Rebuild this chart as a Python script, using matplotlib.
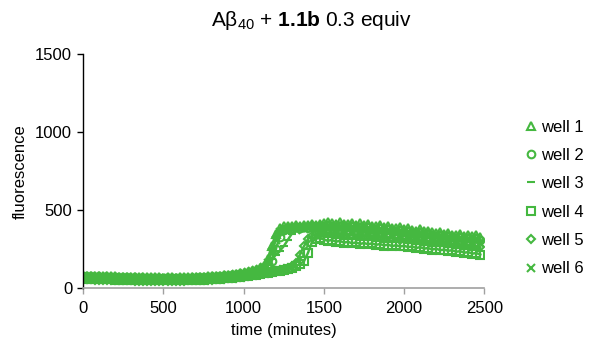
import numpy as np
import matplotlib
matplotlib.use("Agg")
import matplotlib.pyplot as plt

plt.rcParams['font.family'] = ['Liberation Sans', 'DejaVu Sans']
plt.rcParams['mathtext.fontset'] = 'custom'
plt.rcParams['mathtext.rm'] = 'Liberation Sans'
plt.rcParams['mathtext.bf'] = 'Liberation Sans:bold'
plt.rcParams['mathtext.it'] = 'Liberation Sans:italic'

# sampling times (minutes), one reading every 25 min
time_min = np.arange(0, 2500, 25)

well_1 = [82, 80, 81, 79, 78, 79, 77, 76, 77, 75,
          74, 75, 73, 72, 73, 71, 72, 70, 71, 70,
          69, 70, 70, 69, 71, 70, 72, 71, 73, 74,
          75, 76, 78, 79, 81, 83, 86, 88, 92, 96,
          101, 106, 112, 120, 130, 145, 190, 270, 350, 385,
          398, 402, 396, 405, 400, 408, 403, 410, 406, 412,
          418, 425, 416, 412, 422, 414, 410, 420, 408, 415,
          406, 414, 402, 398, 408, 394, 400, 388, 384, 392,
          380, 386, 374, 370, 378, 364, 370, 360, 354, 362,
          350, 356, 344, 340, 350, 336, 342, 332, 340, 328]
well_2 = [76, 74, 75, 73, 72, 73, 71, 70, 71, 69,
          68, 69, 67, 66, 67, 65, 66, 64, 65, 64,
          63, 64, 63, 64, 65, 64, 66, 65, 67, 68,
          69, 70, 72, 73, 75, 77, 80, 82, 86, 90,
          94, 98, 104, 110, 118, 128, 142, 175, 250, 330,
          372, 388, 385, 392, 388, 395, 390, 398, 393, 400,
          396, 402, 398, 394, 400, 396, 392, 398, 390, 394,
          386, 390, 382, 378, 385, 374, 378, 370, 366, 372,
          360, 365, 356, 352, 358, 346, 350, 342, 336, 344,
          330, 334, 326, 322, 330, 318, 322, 314, 320, 310]
well_3 = [71, 70, 70, 68, 68, 67, 66, 66, 65, 64,
          64, 63, 63, 62, 61, 61, 60, 60, 59, 60,
          59, 58, 59, 59, 60, 59, 61, 61, 62, 63,
          64, 65, 66, 68, 70, 72, 74, 77, 80, 84,
          88, 92, 97, 103, 110, 120, 150, 185, 215, 240,
          270, 310, 350, 372, 378, 384, 380, 388, 383, 390,
          386, 392, 388, 384, 390, 386, 380, 386, 378, 382,
          374, 378, 370, 366, 372, 362, 366, 358, 354, 360,
          348, 352, 344, 340, 346, 334, 338, 330, 324, 332,
          318, 322, 314, 310, 316, 304, 308, 300, 306, 296]
well_4 = [62, 61, 60, 60, 59, 58, 58, 57, 56, 56,
          55, 55, 54, 54, 53, 53, 52, 52, 52, 51,
          51, 51, 52, 52, 52, 53, 53, 54, 54, 55,
          56, 57, 58, 59, 61, 63, 65, 67, 70, 73,
          76, 80, 84, 88, 92, 96, 100, 104, 108, 113,
          118, 124, 132, 142, 155, 172, 225, 295, 318, 322,
          312, 304, 310, 298, 304, 292, 298, 288, 294, 284,
          290, 282, 288, 278, 284, 274, 280, 270, 276, 268,
          272, 264, 268, 258, 264, 254, 258, 248, 254, 244,
          248, 240, 244, 234, 238, 228, 232, 222, 226, 216]
well_5 = [58, 57, 57, 56, 55, 55, 54, 53, 53, 52,
          52, 51, 51, 50, 50, 49, 49, 48, 49, 48,
          48, 48, 49, 49, 50, 50, 51, 51, 52, 53,
          54, 55, 56, 58, 60, 62, 64, 66, 69, 72,
          75, 79, 83, 87, 91, 95, 100, 105, 110, 116,
          122, 130, 140, 165, 215, 268, 315, 338, 345, 350,
          346, 352, 348, 344, 350, 342, 346, 338, 342, 334,
          338, 330, 334, 326, 330, 322, 326, 318, 320, 312,
          316, 308, 310, 302, 306, 298, 300, 292, 296, 288,
          290, 282, 286, 278, 280, 272, 276, 268, 270, 262]
well_6 = [79, 77, 78, 76, 75, 76, 74, 73, 74, 72,
          71, 72, 70, 69, 70, 68, 69, 67, 68, 67,
          66, 67, 66, 67, 68, 67, 69, 68, 70, 71,
          72, 73, 75, 76, 78, 80, 83, 85, 89, 93,
          97, 102, 108, 115, 124, 138, 165, 230, 310, 360,
          378, 372, 380, 376, 384, 378, 386, 380, 388, 384,
          380, 386, 382, 376, 382, 374, 378, 370, 374, 366,
          370, 362, 366, 358, 362, 354, 356, 348, 352, 344,
          346, 338, 342, 334, 336, 328, 330, 322, 326, 318,
          320, 312, 314, 306, 310, 302, 304, 296, 300, 292]

wells = [well_1, well_2, well_3, well_4, well_5, well_6]
well_labels = ['well 1', 'well 2', 'well 3', 'well 4', 'well 5', 'well 6']
markers = ['^', 'o', '_', 's', 'D', 'x']

green = '#45b840'

fig = plt.figure(figsize=(5.92, 3.45), dpi=100)
ax = fig.add_axes([0.1407, 0.1643, 0.6774, 0.6792])

for values, label, m in zip(wells, well_labels, markers):
    size = 4.5 if m == 'D' else 5.5
    # joining line stands in for the much denser readings of the original
    ax.plot(time_min, values, color=green, linewidth=1.8, zorder=1)
    ax.plot(time_min, values, linestyle='none', marker=m, markersize=size,
            markerfacecolor='none', markeredgecolor=green, markeredgewidth=1.5,
            label=label, zorder=2)

ax.set_xlim(0, 2500)
ax.set_ylim(0, 1500)
ax.set_xticks([0, 500, 1000, 1500, 2000, 2500])
ax.set_yticks([0, 500, 1000, 1500])

for side in ['top', 'right']:
    ax.spines[side].set_visible(False)
ax.spines['left'].set_color('black')
ax.spines['left'].set_linewidth(1.0)
ax.spines['bottom'].set_color('#a0a0a0')
ax.spines['bottom'].set_linewidth(1.2)
ax.tick_params(axis='y', direction='out', length=4, width=1.0, color='black', labelsize=12, pad=4)
ax.tick_params(axis='x', direction='out', length=4, width=1.0, color='#a0a0a0', labelsize=12, pad=5)

ax.set_xlabel('time (minutes)', fontsize=12, labelpad=5)
ax.set_ylabel('fluorescence', fontsize=12, labelpad=5.5)

fig.text(311 / 592, 1 - 20 / 345, r'Aβ$_{40}$ + $\mathbf{1.1b}$ 0.3 equiv',
         ha='center', va='center', fontsize=15)

handles, labels = ax.get_legend_handles_labels()
leg = fig.legend(handles, labels, loc='center left', bbox_to_anchor=(518 / 592, 1 - 198 / 345),
                 frameon=False, fontsize=12, handlelength=0.6, handletextpad=0.3,
                 labelspacing=0.8, borderpad=0, markerscale=1.0)

fig.savefig('out.png', dpi=100)
